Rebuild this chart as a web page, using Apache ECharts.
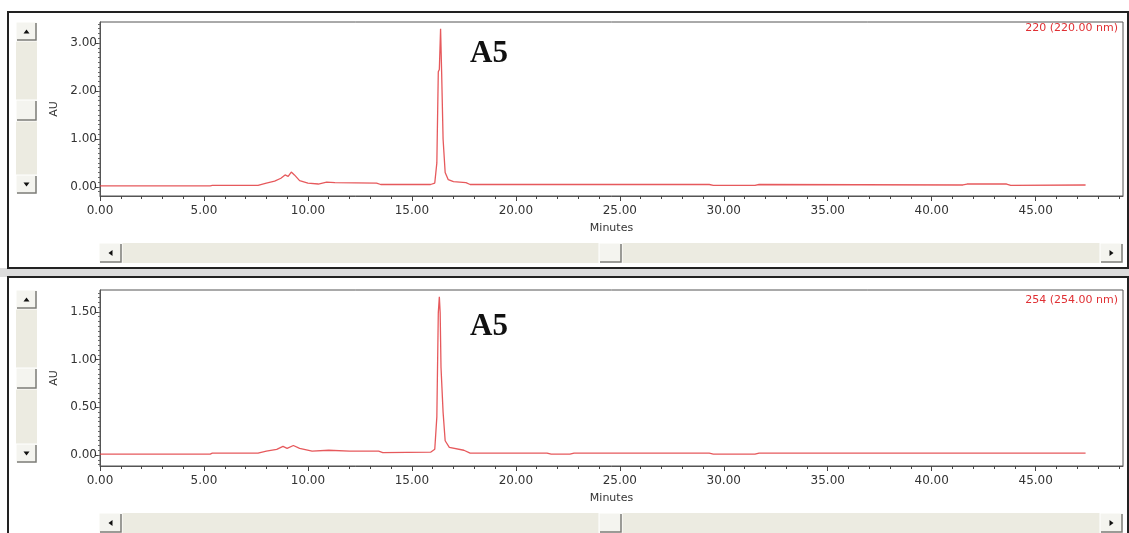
<!DOCTYPE html>
<html>
<head>
<meta charset="utf-8">
<title>A5 chromatogram</title>
<script src="https://cdn.jsdelivr.net/npm/echarts@6/dist/echarts.min.js"></script>
<style>
  html, body { margin: 0; padding: 0; background: #fff; }
  #chart { width: 1129px; height: 533px; }
</style>
</head>
<body>
<div id="chart"></div>
<script>
// 220 nm trace (minutes / AU)
var time220 = [0, 5.3, 5.4, 7.6, 8.0, 8.4, 8.7, 8.9, 9.05, 9.2, 9.35, 9.6, 10.0, 10.5, 10.9, 11.3, 13.3, 13.5,
  15.9, 16.1, 16.2, 16.27, 16.32, 16.38, 16.43, 16.5, 16.6, 16.75, 17.0, 17.6, 17.8, 29.3, 29.5, 31.5, 31.7,
  41.5, 41.7, 43.6, 43.8, 47.4]
var au220 = [0.02, 0.02, 0.03, 0.03, 0.08, 0.12, 0.18, 0.25, 0.22, 0.31, 0.25, 0.13, 0.08, 0.06, 0.1, 0.09, 0.08, 0.05,
  0.05, 0.08, 0.5, 2.4, 2.45, 3.3, 2.4, 1.0, 0.3, 0.15, 0.11, 0.09, 0.05, 0.05, 0.03, 0.03, 0.05,
  0.04, 0.06, 0.06, 0.03, 0.04]

// 254 nm trace
var time254 = [0, 5.3, 5.4, 7.6, 8.0, 8.5, 8.8, 9.0, 9.3, 9.6, 10.2, 11.0, 12.0, 13.4, 13.6, 15.9, 16.1, 16.2,
  16.27, 16.32, 16.36, 16.4, 16.5, 16.6, 16.8, 17.5, 17.8, 21.5, 21.7, 22.6, 22.8, 29.3, 29.5, 31.5, 31.7, 47.4]
var au254 = [0.01, 0.01, 0.02, 0.02, 0.04, 0.06, 0.09, 0.07, 0.1, 0.07, 0.04, 0.05, 0.04, 0.04, 0.025, 0.03, 0.06, 0.4,
  1.49, 1.66, 1.49, 0.92, 0.45, 0.15, 0.08, 0.05, 0.02, 0.02, 0.01, 0.01, 0.02, 0.02, 0.01, 0.01, 0.02, 0.02]

// tick labels
var xLabels = [0, 5, 10, 15, 20, 25, 30, 35, 40, 45]
var yLabels220 = [0, 1, 2, 3]
var yLabels254 = [0, 0.5, 1, 1.5]

var lineColor = '#e23c40'
var textColor = '#333'
var font = 'DejaVu Sans'

function pairs(t, v) {
  var out = []
  for (var i = 0; i < t.length; i++) out.push([t[i], v[i]])
  return out
}

// minor tick positions
function steps(from, to, step) {
  var out = []
  for (var v = from; v <= to + 1e-9; v += step) out.push(Math.round(v * 1000) / 1000)
  return out
}

function fix2(v) {
  return Number(v).toFixed(2)
}

function xAxisPair(grid) {
  return [
    {
      gridIndex: grid,
      type: 'value',
      position: 'bottom',
      min: 0,
      max: 49.2,
      name: 'Minutes',
      nameLocation: 'middle',
      nameGap: 27,
      nameTextStyle: { color: textColor, fontSize: 11, fontFamily: font },
      axisLine: { onZero: false, lineStyle: { color: '#555', width: 1 } },
      axisTick: { customValues: xLabels, length: 5, lineStyle: { color: '#444' } },
      axisLabel: { customValues: xLabels, formatter: fix2, color: textColor, fontSize: 12, fontFamily: font, margin: 9 },
      splitLine: { show: false }
    },
    {
      gridIndex: grid,
      type: 'value',
      position: 'bottom',
      min: 0,
      max: 49.2,
      axisLine: { show: false, onZero: false },
      axisTick: { customValues: steps(1, 49, 1), length: 3, lineStyle: { color: '#444' } },
      axisLabel: { show: false },
      splitLine: { show: false }
    }
  ]
}

function yAxisPair(grid, min, max, labels, minorStep) {
  return [
    {
      gridIndex: grid,
      type: 'value',
      position: 'left',
      min: min,
      max: max,
      name: 'AU',
      nameLocation: 'middle',
      nameRotate: 90,
      nameGap: 40,
      nameTextStyle: { color: textColor, fontSize: 11, fontFamily: font },
      axisLine: { onZero: false, lineStyle: { color: '#555', width: 1 } },
      axisTick: { customValues: labels, length: 5, lineStyle: { color: '#444' } },
      axisLabel: { customValues: labels, formatter: fix2, color: textColor, fontSize: 12, fontFamily: font, margin: 3 },
      splitLine: { show: false }
    },
    {
      gridIndex: grid,
      type: 'value',
      position: 'left',
      min: min,
      max: max,
      axisLine: { show: false, onZero: false },
      axisTick: { customValues: steps(Math.ceil(min / minorStep) * minorStep, max, minorStep), length: 2, lineStyle: { color: '#666' } },
      axisLabel: { show: false },
      splitLine: { show: false }
    }
  ]
}

// scrollbar button with a small arrow
function button(x, y, w, h, dir) {
  var cx = x + w / 2, cy = y + h / 2
  var pts = []
  if (dir === 'up') pts = [[cx - 3, cy + 2], [cx + 3, cy + 2], [cx, cy - 2]]
  if (dir === 'down') pts = [[cx - 3, cy - 2], [cx + 3, cy - 2], [cx, cy + 2]]
  if (dir === 'left') pts = [[cx + 2, cy - 3], [cx + 2, cy + 3], [cx - 2, cy]]
  if (dir === 'right') pts = [[cx - 2, cy - 3], [cx - 2, cy + 3], [cx + 2, cy]]
  var els = [
    { type: 'rect', shape: { x: x, y: y, width: w, height: h }, style: { fill: '#f4f4ef', stroke: '#fff', lineWidth: 1 } },
    { type: 'polyline', shape: { points: [[x + w - 1, y + 1], [x + w - 1, y + h - 1], [x + 1, y + h - 1]] }, style: { stroke: '#7c7c78', lineWidth: 1.5, fill: null } }
  ]
  if (pts.length) els.push({ type: 'polygon', shape: { points: pts }, style: { fill: '#111' } })
  return { type: 'group', children: els }
}

function scrollbars(top, vTrackH, hY) {
  return [
    { type: 'rect', shape: { x: 16, y: top, width: 21, height: vTrackH }, style: { fill: '#ecebe1' } },
    button(16, top, 21, 19, 'up'),
    button(16, top + 78, 21, 21, ''),
    button(16, top + vTrackH - 19, 21, 19, 'down'),
    { type: 'rect', shape: { x: 99, y: hY, width: 1024, height: 20 }, style: { fill: '#ecebe1' } },
    button(99, hY, 23, 20, 'left'),
    button(599, hY, 23, 20, ''),
    button(1100, hY, 23, 20, 'right')
  ]
}

function initChart() {
  var myChart = echarts.init(document.getElementById('chart'))

  var xs = xAxisPair(0).concat(xAxisPair(1))
  var ys = yAxisPair(0, -0.19, 3.44, yLabels220, 0.1).concat(yAxisPair(1, -0.115, 1.73, yLabels254, 0.05))

  var graphics = [
    // panel frames
    { type: 'rect', z: -10, shape: { x: 0, y: 268, width: 1129, height: 9 }, style: { fill: '#dcdcdc' } },
    { type: 'rect', shape: { x: 8, y: 12, width: 1120, height: 256 }, style: { fill: null, stroke: '#222', lineWidth: 2 } },
    { type: 'rect', shape: { x: 8, y: 277, width: 1120, height: 270 }, style: { fill: null, stroke: '#222', lineWidth: 2 } },
    // labels
    { type: 'text', left: 470, top: 38, style: { text: 'A5', font: 'bold 31px "Liberation Serif", serif', fill: '#111' } },
    { type: 'text', left: 470, top: 311, style: { text: 'A5', font: 'bold 31px "Liberation Serif", serif', fill: '#111' } },
    { type: 'text', right: 11, top: 23, style: { text: '220 (220.00 nm)', font: '11px "DejaVu Sans"', fill: '#e03034' } },
    { type: 'text', right: 11, top: 295, style: { text: '254 (254.00 nm)', font: '11px "DejaVu Sans"', fill: '#e03034' } }
  ].concat(scrollbars(22, 172, 243)).concat(scrollbars(290, 173, 513))

  var option = {
    animation: false,
    backgroundColor: '#fff',
    grid: [
      { left: 100, top: 22, width: 1023, height: 174, show: true, borderColor: '#555', borderWidth: 1, backgroundColor: '#fff' },
      { left: 100, top: 290, width: 1023, height: 176, show: true, borderColor: '#555', borderWidth: 1, backgroundColor: '#fff' }
    ],
    xAxis: xs,
    yAxis: ys,
    graphic: graphics,
    series: [
      {
        name: '220 (220.00 nm)',
        type: 'line',
        xAxisIndex: 0,
        yAxisIndex: 0,
        showSymbol: false,
        lineStyle: { color: lineColor, width: 1.3, opacity: 0.85 },
        data: pairs(time220, au220)
      },
      {
        name: '254 (254.00 nm)',
        type: 'line',
        xAxisIndex: 2,
        yAxisIndex: 2,
        showSymbol: false,
        lineStyle: { color: lineColor, width: 1.3, opacity: 0.85 },
        data: pairs(time254, au254)
      }
    ]
  }
  myChart.setOption(option)
}

initChart()
</script>
</body>
</html>
